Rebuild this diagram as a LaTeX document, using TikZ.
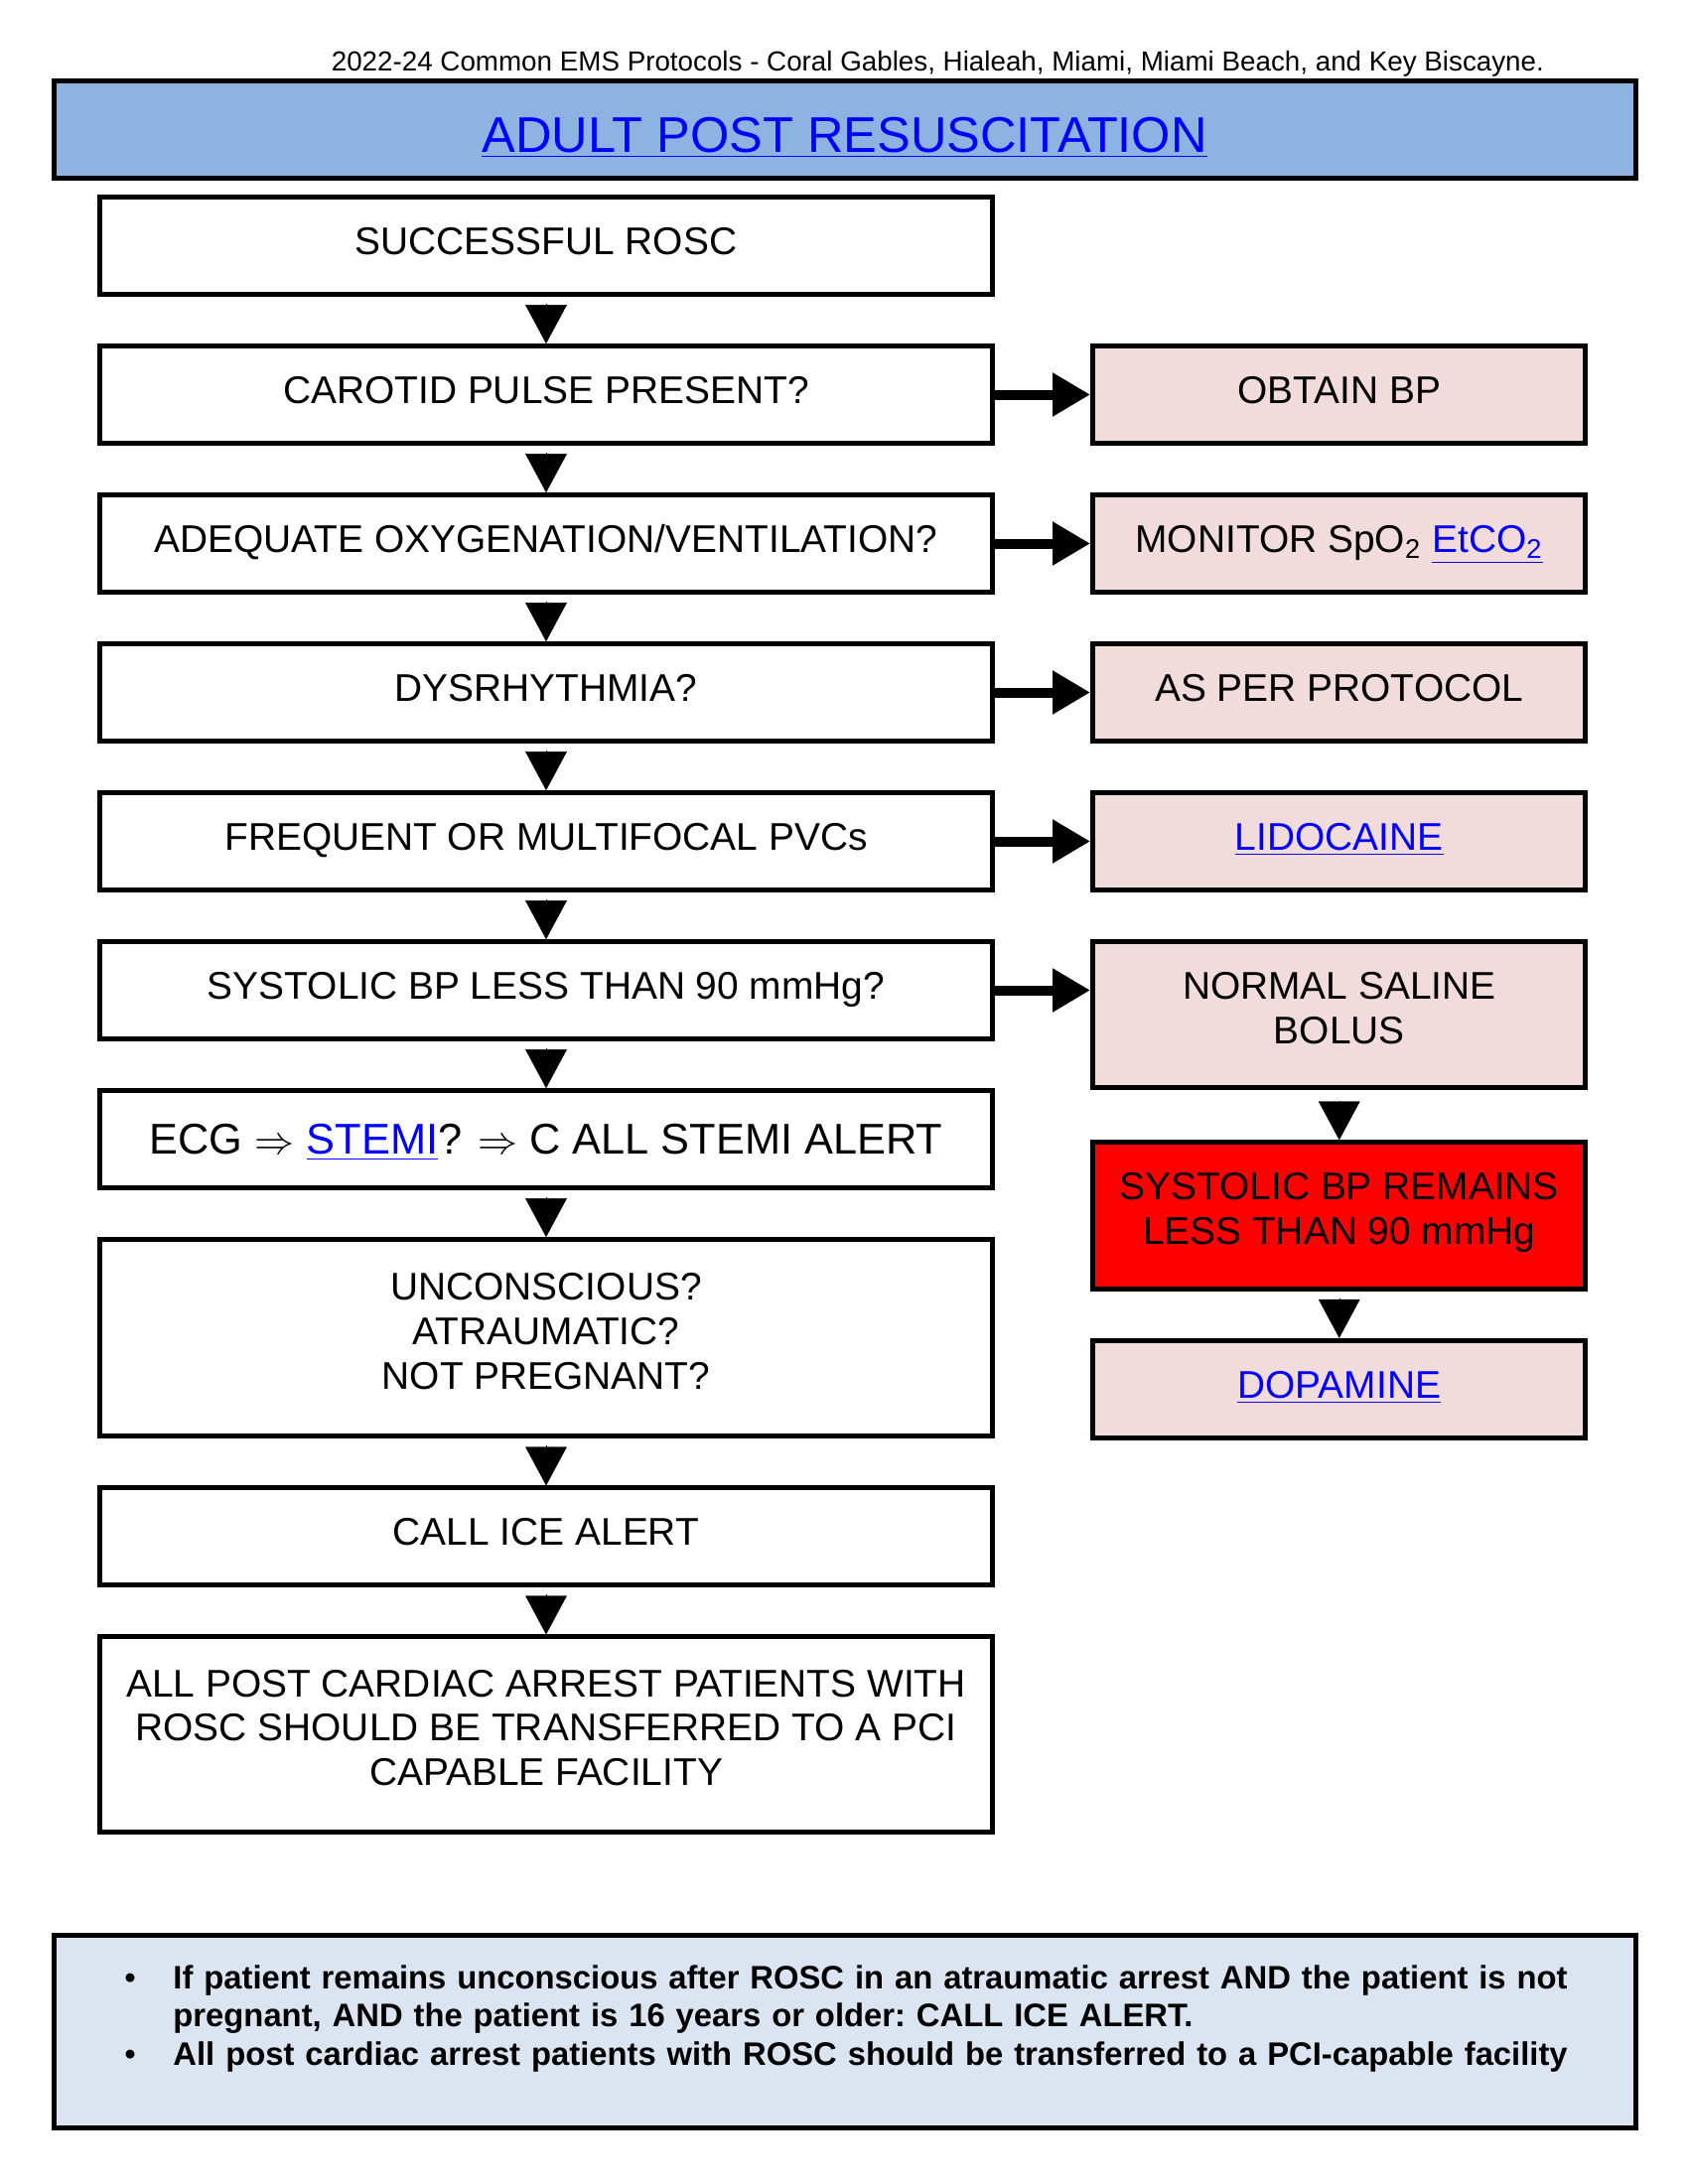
\documentclass[tikz,border=0pt]{standalone}
\usepackage{fontspec}
\setmainfont{Liberation Sans}
\usepackage{enumitem}
\usetikzlibrary{positioning,arrows.meta}

\definecolor{titleblue}{HTML}{8DB3E2}
\definecolor{actpink}{HTML}{F2DCDB}
\definecolor{noteblue}{HTML}{DBE5F1}
\definecolor{linkblue}{HTML}{0000FF}
\newcommand{\lnk}[1]{\textcolor{linkblue}{\underline{#1}}}

\begin{document}
\begin{tikzpicture}[
    node distance=17pt,
    stepbox/.style={rectangle, draw, line width=1.8pt, minimum width=323.6pt, minimum height=35.2pt, align=center, font=\fontsize{14}{16.1}\selectfont, execute at begin node=\strut, execute at end node=\strut},
    actbox/.style={stepbox, fill=actpink, minimum width=178.7pt},
    downarrow/.style={-{Triangle[width=15pt,length=14pt]}, line width=0.1pt, shorten <=2.5pt},
    rightarrow/.style={-{Triangle[width=15pt,length=13.7pt]}, line width=3.6pt}
]
\useasboundingbox (0,0) rectangle (612pt,-792pt);

% header and title
\node[anchor=base, font=\fontsize{10}{12}\selectfont] (hdr) at (340pt,-25.9pt) {2022-24 Common EMS Protocols - Coral Gables, Hialeah, Miami, Miami Beach, and Key Biscayne.};
\node[draw, line width=1.8pt, fill=titleblue, minimum width=573.5pt, minimum height=35.6pt] (title) at (306.2pt,-47pt) {};
\node[font=\fontsize{18.2}{21}\selectfont] (titletext) at ([yshift=-3pt]title.center) {\lnk{ADULT POST RESUSCITATION}};

% main column
\node[stepbox] (rosc) at (198pt,-89.1pt) {SUCCESSFUL ROSC};
\node[stepbox, below=of rosc] (pulse) {CAROTID PULSE PRESENT?};
\node[stepbox, below=of pulse] (oxy) {ADEQUATE OXYGENATION/VENTILATION?};
\node[stepbox, below=of oxy] (dysr) {DYSRHYTHMIA?};
\node[stepbox, below=of dysr] (pvc) {FREQUENT OR MULTIFOCAL PVCs};
\node[stepbox, below=of pvc] (sbp) {SYSTOLIC BP LESS THAN 90 mmHg?};
\node[stepbox, below=of sbp, font=\fontsize{15.6}{17.9}\selectfont, execute at begin node={}, execute at end node={}, text height=11pt, text depth=0pt] (ecg) {ECG $\Rightarrow$ \lnk{STEMI}? $\Rightarrow$ C ALL STEMI ALERT};
\node[stepbox, below=of ecg, minimum height=71.3pt] (unc) {UNCONSCIOUS?\\ATRAUMATIC?\\NOT PREGNANT?};
\node[stepbox, below=of unc] (ice) {CALL ICE ALERT};
\node[stepbox, below=of ice, minimum height=70.6pt] (pci) {ALL POST CARDIAC ARREST PATIENTS WITH\\ROSC SHOULD BE TRANSFERRED TO A PCI\\CAPABLE FACILITY};

% side column
\node[actbox, right=34.6pt of pulse] (bp) {OBTAIN BP};
\node[actbox, right=34.6pt of oxy] (mon) {MONITOR SpO\textsubscript{2} \lnk{EtCO\textsubscript{2}}};
\node[actbox, right=34.6pt of dysr] (proto) {AS PER PROTOCOL};
\node[actbox, right=34.6pt of pvc] (lido) {\lnk{LIDOCAINE}};
\node[actbox, below right=0pt and 34.6pt of sbp.north east, minimum height=53pt] (ns) {NORMAL SALINE\\BOLUS};
\node[actbox, below=18pt of ns, fill=red, minimum height=53pt] (sbp2) {SYSTOLIC BP REMAINS\\LESS THAN 90 mmHg};
\node[actbox, below=of sbp2] (dopa) {\lnk{DOPAMINE}};

\draw[downarrow] (rosc) -- (pulse);
\draw[downarrow] (pulse) -- (oxy);
\draw[downarrow] (oxy) -- (dysr);
\draw[downarrow] (dysr) -- (pvc);
\draw[downarrow] (pvc) -- (sbp);
\draw[downarrow] (sbp) -- (ecg);
\draw[downarrow] (ecg) -- (unc);
\draw[downarrow] (unc) -- (ice);
\draw[downarrow] (ice) -- (pci);
\draw[downarrow, shorten <=3.9pt] (ns) -- (sbp2);
\draw[downarrow] (sbp2) -- (dopa);

\draw[rightarrow] (pulse) -- (bp);
\draw[rightarrow] (oxy) -- (mon);
\draw[rightarrow] (dysr) -- (proto);
\draw[rightarrow] (pvc) -- (lido);
\draw[rightarrow] (sbp.east) -- (sbp.east -| ns.west);

% notes
\node[draw, line width=1.8pt, fill=noteblue, minimum width=573.5pt, minimum height=69.7pt] (note) at (306.2pt,-736.7pt) {};
\node[anchor=north west, inner sep=0pt, text width=540pt, font=\bfseries\fontsize{11.8}{13.8}\selectfont] (notetext) at (40pt,-707.2pt) {%
\raggedright\frenchspacing
\begin{itemize}[leftmargin=22.6pt, labelsep=13.5pt, topsep=0pt, itemsep=0pt, parsep=0pt, partopsep=0pt]
\item If patient remains unconscious after ROSC in an atraumatic arrest AND the patient is not pregnant, AND the patient is 16 years or older: CALL ICE ALERT.
\item All post cardiac arrest patients with ROSC should be transferred to a PCI-capable facility
\end{itemize}};

\end{tikzpicture}
\end{document}
